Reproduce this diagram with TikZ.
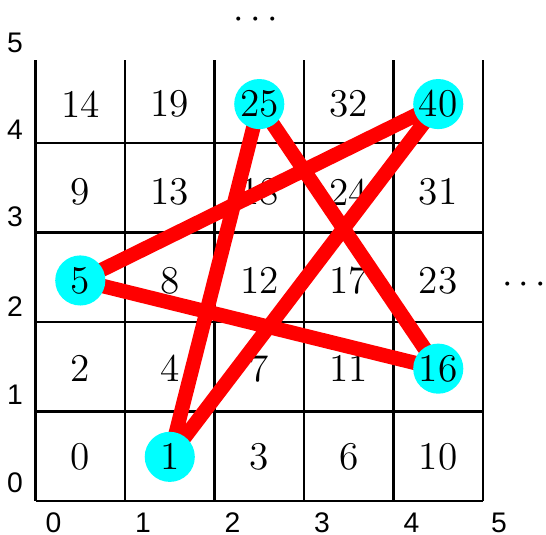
\documentclass[tikz,border=0pt]{standalone}
\usepackage{fontspec}
\newfontfamily\axisfont{Liberation Sans}
\definecolor{hitcyan}{RGB}{0,255,255}
\definecolor{linkred}{RGB}{255,0,0}
\pgfdeclarelayer{gridlayer}
\pgfdeclarelayer{edgelayer}
\pgfsetlayers{gridlayer,edgelayer,main}

\begin{document}
\begin{tikzpicture}[
  x=1cm, y=0.9855cm,
  cell/.style={font=\fontsize{12.5}{15}\selectfont,inner sep=0pt},
  axis/.style={font=\axisfont\fontsize{9}{11}\selectfont,inner sep=0pt},
  hit/.style={circle,fill=hitcyan,minimum size=5.6mm,inner sep=0pt,font=\fontsize{12.5}{15}\selectfont},
  link/.style={draw=linkred,line width=4.6pt,line join=round}
]
\useasboundingbox (-0.397,-0.385) rectangle (5.704,5.680);

\begin{pgfonlayer}{gridlayer}
\draw[line width=0.7pt] (0,0) grid (5,5);
% cell numbers
\node[cell] (c04) at (0.5,4.5) {14}; \node[cell] (c14) at (1.5,4.5) {19};
\node[cell] (c34) at (3.5,4.5) {32};
\node[cell] (c03) at (0.5,3.5) {9};  \node[cell] (c13) at (1.5,3.5) {13};
\node[cell] (c23) at (2.5,3.5) {18}; \node[cell] (c33) at (3.5,3.5) {24};
\node[cell] (c43) at (4.5,3.5) {31};
\node[cell] (c12) at (1.5,2.5) {8};  \node[cell] (c22) at (2.5,2.5) {12};
\node[cell] (c32) at (3.5,2.5) {17}; \node[cell] (c42) at (4.5,2.5) {23};
\node[cell] (c01) at (0.5,1.5) {2};  \node[cell] (c11) at (1.5,1.5) {4};
\node[cell] (c21) at (2.5,1.5) {7};  \node[cell] (c31) at (3.5,1.5) {11};
\node[cell] (c00) at (0.5,0.5) {0};  \node[cell] (c20) at (2.5,0.5) {3};
\node[cell] (c30) at (3.5,0.5) {6};  \node[cell] (c40) at (4.5,0.5) {10};
\end{pgfonlayer}

% axis labels
\node[axis] (x0) at (0.2,-0.25) {0}; \node[axis] (x1) at (1.2,-0.25) {1};
\node[axis] (x2) at (2.2,-0.25) {2}; \node[axis] (x3) at (3.2,-0.25) {3};
\node[axis] (x4) at (4.2,-0.25) {4}; \node[axis] (x5) at (5.18,-0.25) {5};
\node[axis] (y0) at (-0.23,0.21) {0}; \node[axis] (y1) at (-0.23,1.2) {1};
\node[axis] (y2) at (-0.23,2.2) {2}; \node[axis] (y3) at (-0.23,3.22) {3};
\node[axis] (y4) at (-0.23,4.21) {4}; \node[axis] (y5) at (-0.23,5.19) {5};
\node[cell] (topdots) at (2.46,5.45) {$\cdots$};
\node[cell] (rightdots) at (5.46,2.45) {$\cdots$};

% marked cells
\node[hit] (n25) at (2.5,4.5) {25};
\node[hit] (n40) at (4.5,4.5) {40};
\node[hit] (n5) at (0.5,2.5) {5};
\node[hit] (n16) at (4.5,1.5) {16};
\node[hit] (n1) at (1.5,0.5) {1};

\begin{pgfonlayer}{edgelayer}
\draw[link] (n1.center) -- (n25.center) -- (n16.center) -- (n5.center) -- (n40.center) -- cycle;
\end{pgfonlayer}
\end{tikzpicture}
\end{document}
